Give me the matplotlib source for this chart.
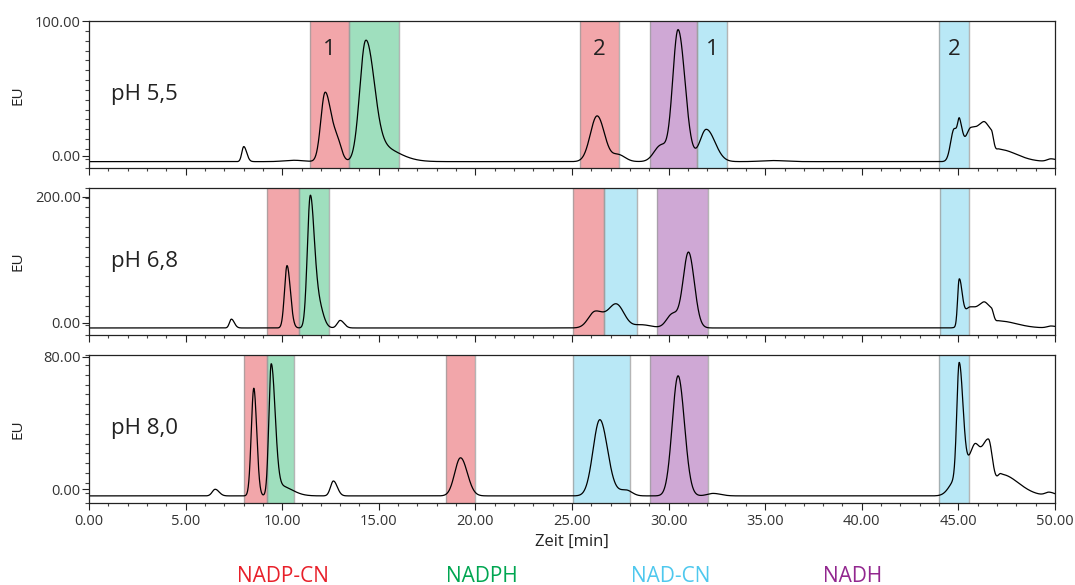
import numpy as np
import matplotlib
matplotlib.use("Agg")
import matplotlib.pyplot as plt
from matplotlib.ticker import MultipleLocator, FixedLocator

plt.rcParams['font.family'] = ['Open Sans', 'DejaVu Sans']

# ---------------------------------------------------------------- data
compounds = ["NADP-CN", "NADPH", "NAD-CN", "NADH"]
band_colors = {"NADP-CN": "#f2a6aa", "NADPH": "#9fdfbe",
               "NAD-CN": "#b9e8f6", "NADH": "#cfa8d5"}
text_colors = {"NADP-CN": "#e8202a", "NADPH": "#00a651",
               "NAD-CN": "#4ec8ee", "NADH": "#92278f"}

ph_labels = ["pH 5,5", "pH 6,8", "pH 8,0"]
y_limits = [(-9.6, 100.0), (-20.0, 214.0), (-8.0, 81.0)]
y_ticklabels = [[0.0, 100.0], [0.0, 200.0], [0.0, 80.0]]
baselines = [-4.5, -8.5, -4.0]

# fraction windows: start [min], end [min], compound, window label
bands_55 = [(11.45, 13.45, "NADP-CN", "1"), (13.45, 16.02, "NADPH", ""),
            (25.40, 27.43, "NADP-CN", "2"), (29.03, 31.48, "NADH", ""),
            (31.48, 33.00, "NAD-CN", "1"), (44.02, 45.56, "NAD-CN", "2")]
bands_68 = [(9.19, 10.86, "NADP-CN", ""), (10.86, 12.43, "NADPH", ""),
            (25.07, 26.66, "NADP-CN", ""), (26.66, 28.37, "NAD-CN", ""),
            (29.38, 32.02, "NADH", ""), (44.04, 45.56, "NAD-CN", "")]
bands_80 = [(8.00, 9.21, "NADP-CN", ""), (9.21, 10.60, "NADPH", ""),
            (18.50, 20.00, "NADP-CN", ""), (25.07, 28.00, "NAD-CN", ""),
            (29.03, 32.02, "NADH", ""), (44.00, 45.56, "NAD-CN", "")]
bands = [bands_55, bands_68, bands_80]

# peak tables: retention time [min], height above baseline [EU],
# leading width, trailing width [min]
rt_55 = [8.01, 10.6, 12.22, 12.85, 14.31, 14.9, 26.30, 27.40, 29.60, 30.49,
         31.95, 35.4, 44.78, 45.06, 45.65, 46.30, 46.70, 47.10, 49.80]
h_55 = [11.2, 1.0, 51.0, 14.0, 86.0, 12.0, 34.0, 5.0, 12.0, 98.0,
        24.0, 0.8, 24.0, 18.0, 25.0, 14.0, 18.0, 9.0, 2.0]
wl_55 = [0.10, 0.5, 0.22, 0.25, 0.30, 0.40, 0.35, 0.30, 0.35, 0.28,
         0.33, 0.6, 0.18, 0.09, 0.30, 0.25, 0.25, 0.20, 0.20]
wr_55 = [0.15, 0.5, 0.30, 0.22, 0.42, 1.00, 0.38, 0.35, 0.30, 0.36,
         0.45, 0.6, 0.22, 0.15, 0.50, 0.20, 0.12, 0.90, 0.30]

rt_68 = [7.37, 10.25, 11.45, 11.85, 13.00, 26.20, 27.30, 28.60, 30.20, 31.03,
         45.04, 45.60, 46.30, 46.70, 47.10, 49.80]
h_68 = [14.0, 99.0, 205.0, 40.0, 12.0, 26.0, 37.0, 5.0, 22.0, 120.0,
        72.0, 33.0, 22.0, 25.0, 11.0, 3.0]
wl_68 = [0.10, 0.13, 0.15, 0.20, 0.15, 0.35, 0.40, 0.40, 0.30, 0.28,
         0.08, 0.30, 0.25, 0.25, 0.20, 0.20]
wr_68 = [0.15, 0.17, 0.20, 0.25, 0.20, 0.45, 0.40, 0.50, 0.30, 0.30,
         0.15, 0.50, 0.20, 0.12, 0.90, 0.30]

rt_80 = [6.53, 8.53, 9.43, 9.9, 12.65, 19.23, 26.44, 27.80, 30.49, 32.30,
         44.90, 45.04, 45.80, 46.55, 47.20, 49.70]
h_80 = [4.0, 65.0, 78.0, 6.0, 9.0, 23.0, 46.0, 3.5, 72.5, 1.5,
        10.0, 70.0, 23.0, 34.0, 13.0, 2.0]
wl_80 = [0.15, 0.13, 0.12, 0.3, 0.15, 0.30, 0.35, 0.40, 0.30, 0.30,
         0.35, 0.12, 0.30, 0.40, 0.20, 0.20]
wr_80 = [0.20, 0.15, 0.20, 0.6, 0.20, 0.35, 0.40, 0.30, 0.33, 0.40,
         0.50, 0.20, 0.25, 0.22, 0.90, 0.30]

peak_tables = [(rt_55, h_55, wl_55, wr_55),
               (rt_68, h_68, wl_68, wr_68),
               (rt_80, h_80, wl_80, wr_80)]

x_ticks = [0.0, 5.0, 10.0, 15.0, 20.0, 25.0, 30.0, 35.0, 40.0, 45.0, 50.0]


def trace(t, table, base):
    """Sum of asymmetric Gaussian peaks on a flat baseline."""
    rts, hs, wls, wrs = table
    y = np.full_like(t, base)
    for rt, h, wl, wr in zip(rts, hs, wls, wrs):
        w = np.where(t < rt, wl, wr)
        y += h * np.exp(-0.5 * ((t - rt) / w) ** 2)
    return y


# ---------------------------------------------------------------- figure
fig = plt.figure(figsize=(10.75, 5.85), dpi=100)
left, width = 0.0828, 0.8986
tops = [0.964, 0.679, 0.393]
height = 0.252

t = np.linspace(0.0, 50.0, 5001)
tick_color = "#333333"

for i in range(3):
    ax = fig.add_axes([left, tops[i] - height, width, height])
    ymin, ymax = y_limits[i]
    ax.set_xlim(0, 50)
    ax.set_ylim(ymin, ymax)

    for x0, x1, comp, lab in bands[i]:
        ax.axvspan(x0, x1, color=band_colors[comp], lw=0, zorder=1)
        for xe in (x0, x1):
            ax.axvline(xe, color="#9c9c9c", lw=1.0, alpha=0.75, zorder=1.5)
        if lab:
            ax.text((x0 + x1) / 2, ymin + 0.81 * (ymax - ymin), lab,
                    ha="center", va="center", fontsize=16, color="#222222",
                    zorder=3)

    ax.plot(t, trace(t, peak_tables[i], baselines[i]),
            color="black", lw=0.9, zorder=2)

    ax.text(0.023, 0.5, ph_labels[i], transform=ax.transAxes,
            ha="left", va="center", fontsize=16, color="#222222")

    # axes styling
    for sp in ax.spines.values():
        sp.set_linewidth(0.9)
        sp.set_color("#222222")
    ax.yaxis.set_major_locator(FixedLocator(y_ticklabels[i]))
    step = (ymax - ymin) / 15.0
    ax.yaxis.set_minor_locator(FixedLocator([ymax - k * step for k in range(16)]))
    ax.set_yticklabels(["%.2f" % v for v in y_ticklabels[i]])
    ax.tick_params(axis="y", which="major", length=5, width=0.8,
                   labelsize=10.5, colors="#222222", labelcolor=tick_color, pad=1)
    ax.tick_params(axis="y", which="minor", length=3, width=0.8, colors="#444444")

    ax.xaxis.set_major_locator(FixedLocator(x_ticks))
    ax.xaxis.set_minor_locator(MultipleLocator(1.0))
    ax.tick_params(axis="x", which="major", length=5, width=0.8,
                   labelsize=10.5, colors="#222222", labelcolor=tick_color, pad=3)
    ax.tick_params(axis="x", which="minor", length=2.5, width=0.8, colors="#444444")
    if i < 2:
        ax.set_xticklabels([])
    else:
        ax.set_xticklabels(["%.2f" % v for v in x_ticks])
        ax.set_xlabel("Zeit [min]", fontsize=12, color="#222222", labelpad=4)

    ax.set_ylabel("EU", fontsize=11, color="#222222")
    ax.yaxis.set_label_coords(-0.066, 0.5)

# compound legend along the bottom edge
legend_x = [283, 482, 671, 853]
for comp, xp in zip(compounds, legend_x):
    fig.text(xp / 1075, 1 - 566 / 585, comp, ha="center", va="top",
             fontsize=15, color=text_colors[comp])

fig.savefig("out.png", dpi=100)
